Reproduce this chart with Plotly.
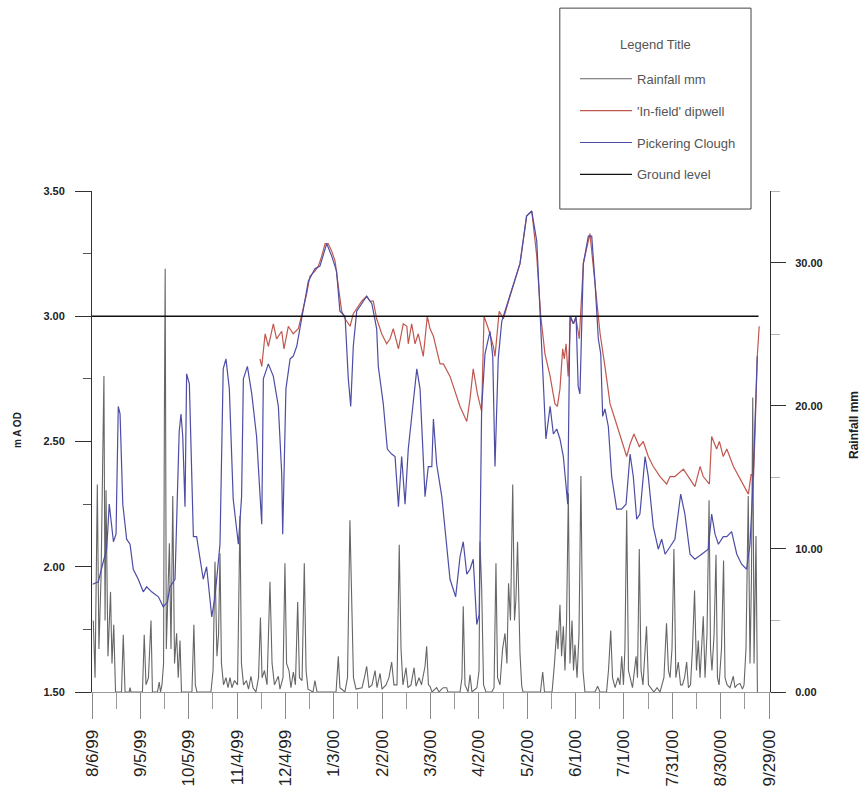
import pandas as pd
import plotly.graph_objects as go

START = pd.Timestamp("1999-08-06")

# Pickering Clough water level (m AOD), days after 8/6/99
pc_day = [0.4, 3.9, 7.0, 9.1, 10.7, 12.2, 13.3, 14.9, 16.3, 17.4,
          19.1, 21.5, 23.6, 25.6, 28.7, 31.8, 33.9, 37.0, 41.2, 44.2,
          46.8, 48.4, 51.5, 52.9, 54.1, 55.2, 56.3, 57.7, 58.7, 60.4,
          62.9, 64.9, 69.0, 71.1, 74.3, 76.3, 79.4, 81.4, 83.1, 85.2,
          87.6, 90.8, 92.8, 93.9, 96.4, 99.1, 102.1, 105.3, 106.3, 109.4,
          112.5, 115.6, 117.7, 118.3, 120.3, 122.9, 124.8, 127.0, 129.1, 132.1,
          134.2, 138.3, 141.4, 145.6, 148.7, 151.7, 153.8, 157.0, 159.0, 160.5,
          162.1, 164.2, 167.3, 170.4, 173.6, 176.6, 177.6, 180.7, 183.2, 185.9,
          188.0, 190.1, 192.1, 194.2, 196.2, 199.4, 201.5, 203.5, 205.5, 206.6,
          208.6, 210.8, 211.8, 213.8, 217.0, 219.0, 222.1, 225.6, 228.3, 230.3,
          232.5, 234.5, 236.5, 238.7, 240.2, 241.7, 243.8, 246.9, 248.6, 250.0,
          252.0, 254.2, 257.2, 261.4, 265.5, 269.6, 272.8, 275.9, 278.0, 279.6,
          281.6, 284.2, 286.2, 288.3, 290.3, 292.4, 295.1, 296.5, 298.6, 300.3,
          301.6, 302.7, 304.8, 307.9, 310.0, 312.0, 314.1, 315.6, 316.8, 318.2,
          320.3, 322.4, 325.5, 328.5, 331.3, 333.8, 335.8, 337.9, 339.9, 343.1,
          345.1, 348.2, 351.3, 353.4, 355.5, 358.6, 361.6, 365.2, 367.8, 371.0,
          374.0, 378.2, 382.3, 384.4, 386.5, 388.6, 391.6, 393.8, 396.8, 400.0,
          403.0, 406.1, 408.2, 409.9, 411.2, 412.7]
pc_level = [1.93, 1.94, 2.02, 2.07, 2.25, 2.17, 2.10, 2.13, 2.64, 2.61,
            2.25, 2.11, 2.09, 1.99, 1.95, 1.90, 1.92, 1.90, 1.88, 1.84,
            1.86, 1.92, 1.95, 2.27, 2.54, 2.61, 2.52, 2.24, 2.77, 2.73,
            2.12, 2.12, 1.95, 2.00, 1.80, 1.88, 2.09, 2.79, 2.83, 2.71,
            2.27, 2.09, 2.28, 2.75, 2.80, 2.69, 2.52, 2.17, 2.75, 2.81,
            2.76, 2.64, 2.37, 2.13, 2.71, 2.83, 2.84, 2.88, 2.96, 3.06,
            3.14, 3.19, 3.20, 3.29, 3.24, 3.18, 3.02, 3.00, 2.75, 2.64,
            2.88, 3.02, 3.05, 3.08, 3.05, 2.95, 2.80, 2.65, 2.47, 2.45,
            2.44, 2.24, 2.44, 2.25, 2.47, 2.68, 2.79, 2.71, 2.40, 2.28,
            2.40, 2.40, 2.59, 2.41, 2.28, 2.16, 1.95, 1.88, 2.04, 2.10,
            1.97, 1.99, 2.03, 1.77, 1.81, 2.63, 2.85, 2.94, 2.84, 2.40,
            2.83, 2.98, 3.04, 3.12, 3.21, 3.40, 3.42, 3.30, 3.00, 2.76,
            2.51, 2.64, 2.53, 2.55, 2.51, 2.44, 2.25, 3.00, 2.97, 3.00,
            2.72, 2.69, 3.21, 3.32, 3.32, 3.14, 2.91, 2.85, 2.60, 2.63,
            2.56, 2.36, 2.23, 2.23, 2.25, 2.45, 2.36, 2.19, 2.21, 2.44,
            2.36, 2.16, 2.07, 2.11, 2.05, 2.08, 2.11, 2.29, 2.21, 2.05,
            2.03, 2.05, 2.07, 2.21, 2.13, 2.09, 2.12, 2.12, 2.14, 2.05,
            2.01, 1.99, 2.09, 2.31, 2.55, 2.84]

# 'In-field' dipwell level (m AOD)
dip_day = [104.2, 105.3, 107.4, 109.4, 112.5, 114.5, 117.7, 119.1, 121.8, 124.8,
           128.0, 130.0, 133.2, 135.2, 138.3, 140.4, 142.5, 144.6, 146.5, 148.7,
           150.8, 152.8, 154.9, 157.0, 160.1, 162.1, 165.2, 167.3, 170.4, 172.5,
           174.5, 176.6, 179.7, 182.8, 184.9, 186.9, 190.1, 193.1, 195.3, 196.2,
           198.3, 200.4, 202.4, 205.5, 208.0, 209.7, 211.8, 215.9, 218.0, 222.1,
           228.3, 232.5, 234.5, 236.5, 239.1, 241.7, 243.2, 245.9, 249.0, 250.0,
           252.6, 255.2, 259.3, 265.5, 269.6, 272.8, 275.9, 278.4, 281.0, 284.2,
           287.2, 288.7, 290.3, 292.0, 293.0, 294.1, 295.4, 296.9, 298.6, 300.3,
           302.3, 304.8, 308.9, 312.0, 315.2, 318.2, 321.4, 324.4, 327.6, 331.7,
           333.8, 336.2, 339.5, 342.0, 345.1, 348.2, 352.4, 356.5, 358.6, 361.6,
           366.9, 369.9, 374.0, 377.2, 379.2, 383.0, 384.4, 387.5, 389.2, 391.6,
           393.8, 397.9, 402.0, 407.2, 408.9, 410.4, 411.4, 412.7, 413.9]
dip_level = [2.83, 2.80, 2.93, 2.88, 2.97, 2.91, 2.94, 2.87, 2.96, 2.93,
             2.95, 3.00, 3.09, 3.16, 3.18, 3.20, 3.24, 3.29, 3.29, 3.26,
             3.22, 3.12, 3.02, 2.99, 2.96, 3.01, 3.04, 3.06, 3.08, 3.06,
             3.06, 2.99, 2.93, 2.89, 2.91, 2.95, 2.87, 2.97, 2.96, 2.89,
             2.97, 2.89, 2.93, 2.84, 3.00, 2.95, 2.92, 2.81, 2.81, 2.76,
             2.64, 2.58, 2.67, 2.79, 2.69, 2.62, 3.00, 2.95, 2.88, 2.84,
             3.02, 2.99, 3.08, 3.21, 3.40, 3.42, 3.24, 3.00, 2.85, 2.76,
             2.65, 2.64, 2.71, 2.87, 2.83, 2.89, 2.76, 3.00, 2.97, 2.99,
             2.91, 3.21, 3.33, 3.13, 2.93, 2.80, 2.65, 2.59, 2.52, 2.44,
             2.49, 2.53, 2.48, 2.50, 2.44, 2.40, 2.36, 2.33, 2.36, 2.36,
             2.39, 2.36, 2.32, 2.40, 2.36, 2.33, 2.52, 2.47, 2.50, 2.44,
             2.47, 2.40, 2.35, 2.29, 2.37, 2.36, 2.55, 2.84, 2.96]

# Ground level (m AOD)
ground_day = [0.0, 413.5]
ground_level = [3.0, 3.0]

# Rainfall (mm)
rain_day = [0.8, 1.9, 3.3, 4.3, 5.6, 7.4, 8.1, 8.7, 9.9, 11.5,
            12.4, 13.5, 14.6, 18.3, 19.4, 20.5, 23.0, 23.6, 24.2, 31.3,
            32.4, 33.5, 35.0, 36.6, 37.5, 40.6, 41.7, 42.5, 43.4, 44.4,
            44.9, 45.4, 46.1, 47.1, 48.0, 49.0, 50.1, 51.2, 52.5, 53.5,
            54.6, 55.5, 62.0, 63.2, 64.1, 65.1, 73.8, 75.1, 76.3, 77.5,
            78.5, 79.4, 80.3, 81.6, 83.1, 84.4, 85.6, 86.8, 88.4, 90.3,
            91.8, 92.7, 94.0, 95.8, 97.1, 98.6, 99.9, 101.7, 103.3, 104.5,
            105.5, 107.0, 108.6, 110.4, 111.7, 113.2, 115.6, 116.6, 118.5, 119.7,
            120.7, 122.2, 123.4, 124.9, 126.2, 127.6, 128.7, 130.3, 131.7, 132.8,
            134.0, 137.1, 138.3, 139.6, 151.4, 152.8, 153.8, 156.9, 158.5, 160.0,
            161.1, 162.2, 163.8, 167.5, 169.0, 170.4, 171.8, 173.7, 175.6, 176.8,
            178.7, 179.9, 182.4, 184.2, 185.9, 187.3, 189.2, 190.6, 191.7, 192.9,
            194.8, 196.0, 197.9, 199.8, 201.0, 202.9, 204.4, 206.6, 207.6, 208.7,
            209.7, 210.9, 213.8, 215.3, 216.9, 217.9, 220.0, 220.8, 228.3, 229.5,
            230.3, 231.4, 233.3, 234.5, 235.7, 238.8, 240.1, 240.7, 241.7, 242.9,
            244.4, 248.0, 249.4, 250.6, 251.6, 253.1, 254.7, 256.2, 257.4, 258.4,
            259.6, 261.0, 262.1, 263.0, 264.0, 264.9, 265.5, 266.6, 267.4, 278.2,
            279.6, 280.7, 285.4, 286.9, 288.3, 289.1, 290.3, 291.3, 292.4, 293.4,
            294.4, 295.5, 296.5, 297.8, 298.7, 299.6, 300.9, 302.1, 303.3, 304.6,
            305.8, 312.0, 313.7, 315.1, 319.2, 320.4, 321.8, 322.9, 324.5, 326.3,
            327.5, 328.6, 329.7, 330.6, 331.7, 332.8, 333.7, 335.3, 337.5, 338.4,
            339.5, 340.6, 341.8, 344.0, 345.2, 346.8, 348.6, 350.5, 352.4, 354.8,
            356.4, 357.6, 358.6, 359.8, 361.0, 362.2, 363.7, 365.1, 366.3, 367.6,
            368.9, 370.0, 371.3, 372.5, 373.8, 375.0, 376.1, 377.2, 378.3, 379.2,
            380.3, 381.5, 382.8, 383.7, 384.6, 385.9, 387.1, 388.0, 389.0, 390.5,
            391.8, 392.7, 394.0, 395.8, 397.8, 398.9, 400.1, 402.0, 403.5, 404.5,
            405.7, 407.1, 408.2, 409.1, 409.9, 410.7, 411.9, 412.8]
rain_mm = [5.0, 1.0, 14.5, 3.0, 8.0, 22.1, 5.0, 14.1, 2.5, 7.0,
           2.0, 4.7, 0.0, 0.0, 4.0, 0.0, 0.0, 0.3, 0.0, 0.0,
           4.0, 0.5, 1.0, 5.0, 0.0, 0.0, 0.7, 0.0, 0.5, 2.0,
           19.3, 29.6, 3.0, 8.0, 10.4, 3.0, 13.7, 2.0, 4.1, 1.0,
           3.6, 0.0, 0.0, 4.7, 0.5, 0.0, 0.0, 1.5, 9.1, 2.5,
           4.0, 9.7, 2.0, 0.5, 1.0, 0.3, 1.0, 0.3, 0.8, 0.5,
           12.3, 2.0, 0.5, 0.8, 0.2, 1.1, 0.3, 0.0, 1.0, 5.2,
           1.0, 1.5, 0.5, 7.7, 2.0, 0.5, 1.1, 0.2, 1.0, 9.0,
           2.0, 1.5, 0.3, 1.4, 0.5, 6.3, 1.0, 0.8, 9.0, 1.5,
           0.2, 0.0, 0.8, 0.0, 0.0, 2.5, 0.3, 0.0, 1.0, 12.0,
           5.7, 1.0, 0.2, 0.3, 1.0, 1.8, 0.3, 0.5, 1.5, 0.3,
           1.3, 0.2, 0.5, 1.0, 2.1, 0.5, 0.5, 10.3, 3.0, 0.5,
           1.7, 0.3, 0.5, 1.7, 0.4, 1.0, 0.5, 1.8, 3.2, 0.5,
           0.4, 0.0, 0.3, 0.0, 0.2, 0.3, 0.3, 0.0, 0.0, 1.0,
           6.0, 0.5, 0.0, 1.2, 0.0, 0.3, 1.5, 10.5, 7.4, 0.5,
           0.0, 0.0, 0.3, 9.0, 1.0, 0.5, 3.0, 4.1, 2.0, 7.6,
           5.0, 14.5, 5.0, 6.5, 10.5, 5.0, 2.7, 0.4, 0.0, 0.0,
           1.4, 0.0, 0.0, 2.0, 4.3, 3.0, 6.1, 2.5, 4.6, 1.5,
           5.0, 13.9, 2.0, 5.0, 1.5, 3.3, 1.0, 4.0, 15.1, 1.5,
           0.0, 0.0, 0.4, 0.0, 0.0, 1.5, 4.3, 1.0, 0.3, 1.0,
           0.5, 2.5, 0.5, 3.0, 12.7, 1.5, 1.0, 0.3, 2.5, 1.0,
           10.0, 1.5, 0.5, 4.6, 0.5, 0.3, 0.0, 0.3, 0.0, 1.0,
           4.8, 1.5, 1.0, 3.0, 10.0, 1.0, 2.1, 0.5, 0.5, 1.0,
           2.1, 0.3, 0.5, 3.0, 7.1, 1.5, 3.6, 1.0, 4.0, 5.3,
           1.0, 4.0, 13.4, 3.0, 1.5, 4.0, 9.6, 1.0, 0.5, 3.0,
           9.2, 1.0, 0.5, 0.3, 1.1, 0.3, 0.5, 0.6, 0.2, 0.5,
           3.0, 13.7, 2.0, 8.0, 20.6, 2.0, 10.9, 0.0]

level_ticks = [1.5, 2.0, 2.5, 3.0, 3.5]
rain_ticks = [0, 10, 20, 30]


def to_dates(days):
    return START + pd.to_timedelta(days, unit="D")


DAY_MS = 86400000
BASE_FONT = "Liberation Sans, Arial, sans-serif"
LEG_FONT = dict(family=BASE_FONT, size=13, color="#555")

fig = go.Figure()
fig.add_trace(go.Scatter(x=to_dates(rain_day), y=rain_mm, name="Rainfall mm",
                         mode="lines", line=dict(color="#666666", width=1.1),
                         yaxis="y", legendgroup="g1"))
fig.add_trace(go.Scatter(x=to_dates(dip_day), y=dip_level, name="'In-field' dipwell",
                         mode="lines", line=dict(color="#c0584f", width=1.2),
                         yaxis="y2", legendgroup="g2"))
fig.add_trace(go.Scatter(x=to_dates(pc_day), y=pc_level, name="Pickering Clough",
                         mode="lines", line=dict(color="#4d4da6", width=1.2),
                         yaxis="y2", legendgroup="g3"))
fig.add_trace(go.Scatter(x=to_dates(ground_day), y=ground_level, name="Ground level",
                         mode="lines", line=dict(color="#111111", width=1.3),
                         yaxis="y2", legendgroup="g4"))

fig.update_layout(
    width=863, height=796, autosize=False,
    margin=dict(l=92, r=93, t=191, b=104, pad=0),
    paper_bgcolor="white", plot_bgcolor="white",
    font=dict(family=BASE_FONT, color="#222"),
    xaxis=dict(
        type="date", automargin=False,
        range=[START, START + pd.Timedelta(days=420.6)],
        tick0="1999-08-06", dtick=30 * DAY_MS,
        tickformat="%-m/%-d/%y", tickangle=-90,
        ticks="outside", ticklen=26, tickwidth=1, tickcolor="#8a8a8a",
        ticklabelstandoff=4,
        tickfont=dict(size=17, color="#222", family=BASE_FONT),
        showline=True, linecolor="#9a9a9a", linewidth=1,
        showgrid=False, zeroline=False,
        minor=dict(tick0="1999-08-06", dtick=15 * DAY_MS, ticks="outside",
                   ticklen=16, tickcolor="#9a9a9a", showgrid=False),
    ),
    yaxis=dict(
        side="right", anchor="x", automargin=False,
        range=[0, 35.03],
        tickvals=rain_ticks, tickformat=".2f",
        ticks="outside", ticklen=15, tickcolor="#333", tickwidth=1,
        ticklabelstandoff=7,
        tickfont=dict(size=11, color="#222", family=BASE_FONT, weight="bold"),
        showline=True, linecolor="#333", linewidth=1,
        showgrid=False, zeroline=False,
        minor=dict(dtick=5, tick0=0, ticks="outside", ticklen=9,
                   tickcolor="#b5b5b5", showgrid=False),
    ),
    yaxis2=dict(
        side="left", overlaying="y", anchor="x", automargin=False,
        range=[1.5, 3.5],
        tickvals=level_ticks, tickformat=".2f",
        ticks="outside", ticklen=16, tickcolor="#333", tickwidth=1,
        ticklabelstandoff=8,
        tickfont=dict(size=11, color="#222", family=BASE_FONT, weight="bold"),
        showline=True, linecolor="#333", linewidth=1,
        showgrid=False, zeroline=False,
        minor=dict(dtick=0.25, tick0=1.5, ticks="outside", ticklen=8,
                   tickcolor="#555", showgrid=False),
    ),
    showlegend=True,
    legend=dict(
        x=0.7124, y=1.254, xanchor="left", yanchor="top",
        bgcolor="rgba(0,0,0,0)", borderwidth=0,
        font=LEG_FONT,
        itemwidth=52, tracegroupgap=12,
    ),
    shapes=[dict(type="rect", xref="paper", yref="paper",
                 x0=0.690, x1=0.972, y0=0.964, y1=1.365,
                 line=dict(color="#444", width=1), fillcolor="white",
                 layer="below")],
    annotations=[
        dict(text="Legend Title", xref="paper", yref="paper",
             x=0.831, y=1.293, xanchor="center", yanchor="middle",
             showarrow=False, font=LEG_FONT),
        dict(text="m A OD", xref="paper", yref="paper", x=-0.109, y=0.523,
             xanchor="center", yanchor="middle",
             textangle=-90, showarrow=False,
             font=dict(size=10, color="#222", family=BASE_FONT, weight="bold")),
        dict(text="Rainfall mm", xref="paper", yref="paper", x=1.124, y=0.533,
             xanchor="center", yanchor="middle",
             textangle=-90, showarrow=False,
             font=dict(size=12, color="#222", family=BASE_FONT, weight="bold")),
    ],
)

fig.write_html("out.html")
